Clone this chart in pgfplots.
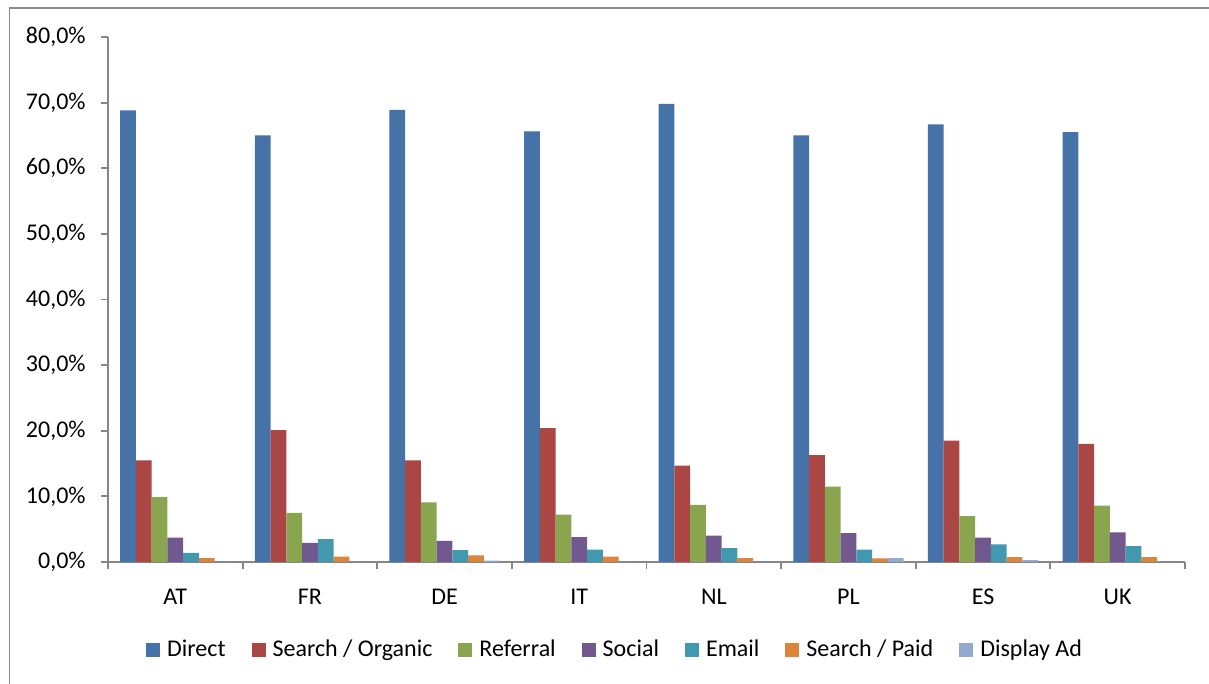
\documentclass[border=0pt]{standalone}
\usepackage{pgfplots}
\usepackage{pgfplotstable}
\pgfplotsset{compat=1.18}
\usepackage{fontspec}
\setmainfont{Carlito}
\definecolor{cDirect}{HTML}{4572A7}
\definecolor{cOrganic}{HTML}{AA4643}
\definecolor{cReferral}{HTML}{89A54E}
\definecolor{cSocial}{HTML}{71588F}
\definecolor{cEmail}{HTML}{4198AF}
\definecolor{cPaid}{HTML}{DB843D}
\definecolor{cDisplay}{HTML}{93A9CF}
\definecolor{axgray}{HTML}{868686}
\definecolor{framegray}{HTML}{8C8C8C}

\pgfplotstableread{
x cat direct organic referral social email paid display
0 AT 68.8 15.5 9.9 3.7 1.4 0.6 0.0
1 FR 65.0 20.1 7.5 2.9 3.5 0.8 0.0
2 DE 68.9 15.5 9.1 3.2 1.8 1.0 0.2
3 IT 65.6 20.4 7.2 3.8 1.9 0.8 0.0
4 NL 69.8 14.7 8.7 4.0 2.1 0.6 0.0
5 PL 65.0 16.3 11.5 4.4 1.9 0.55 0.6
6 ES 66.7 18.5 7.0 3.7 2.7 0.75 0.3
7 UK 65.5 18.0 8.6 4.5 2.4 0.75 0.0
}\datatable

\begin{document}
\begin{tikzpicture}[font=\fontsize{12}{14.5}\selectfont]
\path[use as bounding box] (-54pt,-61pt) rectangle (550.5pt,281pt);
\draw[framegray, line width=0.8pt] (-49.25pt,-61pt) -- (-49.25pt,277pt) -- (550.5pt,277pt);
\begin{axis}[
  at={(0pt,0pt)}, anchor=south west,
  scale only axis,
  width=538.5pt, height=262.5pt,
  xmin=-0.5, xmax=7.5,
  ymin=0, ymax=80,
  axis lines*=left,
  axis line style={axgray, line width=0.9pt},
  ytick={0,10,...,80},
  yticklabel={\pgfmathprintnumber[fixed,fixed zerofill,precision=1,use comma]{\tick}\%},
  /pgf/number format/assume math mode=true,
  xtick={0,...,7},
  xticklabels={AT,FR,DE,IT,NL,PL,ES,UK},
  minor xtick={-0.5,0.5,...,7.5},
  tick align=outside,
  major tick length=3.5pt,
  minor tick length=3.5pt,
  x tick style={draw=none},
  minor x tick style={draw=axgray, line width=0.9pt},
  y tick style={axgray, line width=0.9pt},
  yticklabel style={inner sep=0pt, xshift=-7.5pt},
  xticklabel style={inner sep=0pt, anchor=north, yshift=-10pt},
  ybar,
  bar width=0.117,
  legend columns=-1,
  legend style={draw=none, fill=none, at={(0.4717,-0.1676)}, anchor=center,
    /tikz/every odd column/.append style={column sep=1.5pt},
    /tikz/every even column/.append style={column sep=11pt}},
  legend image code/.code={\fill[#1] (0pt,-3.5pt) rectangle (7pt,3.5pt);},
  clip=false,
]
\addplot[fill=cDirect, draw=none, bar shift=-0.351] table[x=x, y=direct] {\datatable};
\addplot[fill=cOrganic, draw=none, bar shift=-0.234] table[x=x, y=organic] {\datatable};
\addplot[fill=cReferral, draw=none, bar shift=-0.117] table[x=x, y=referral] {\datatable};
\addplot[fill=cSocial, draw=none, bar shift=0] table[x=x, y=social] {\datatable};
\addplot[fill=cEmail, draw=none, bar shift=0.117] table[x=x, y=email] {\datatable};
\addplot[fill=cPaid, draw=none, bar shift=0.234] table[x=x, y=paid] {\datatable};
\addplot[fill=cDisplay, draw=none, bar shift=0.351] table[x=x, y=display] {\datatable};
\legend{Direct, Search / Organic, Referral, Social, Email, Search / Paid, Display Ad}
\end{axis}
\end{tikzpicture}
\end{document}
